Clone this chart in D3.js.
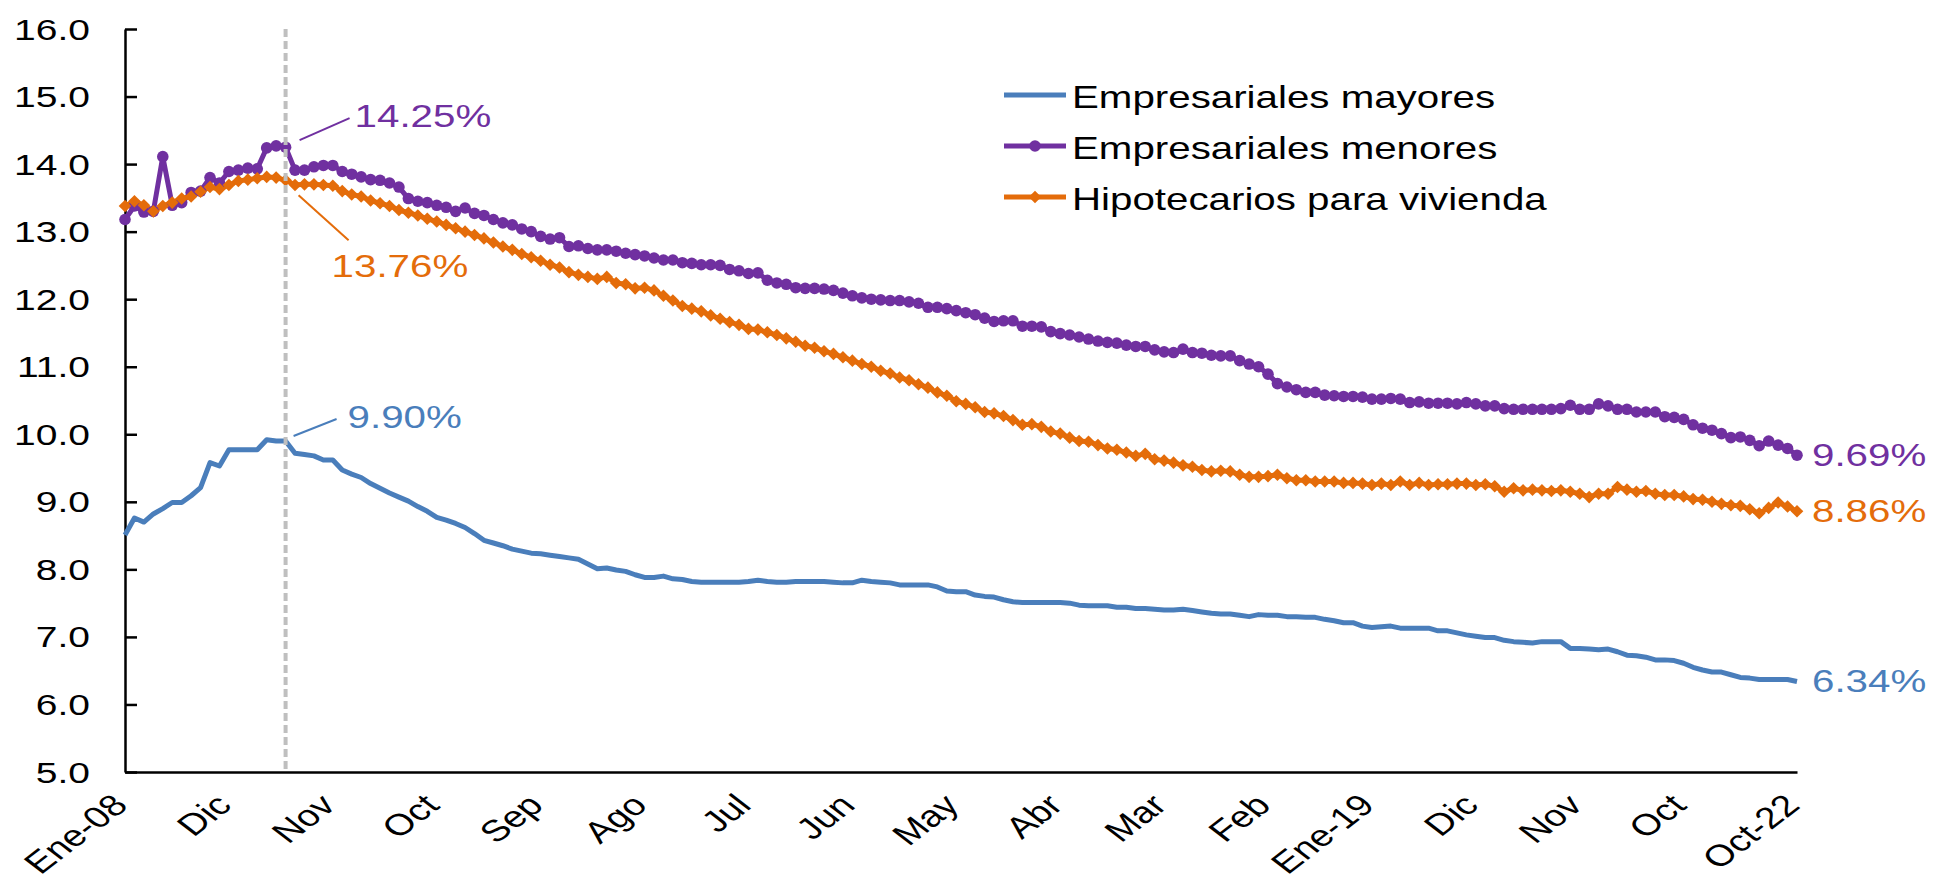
<!DOCTYPE html>
<html lang="es">
<head>
<meta charset="utf-8">
<title>Tasas de interés</title>
<script src="https://d3js.org/d3.v7.min.js"></script>
<style>
html,body {margin:0; padding:0; background:#fff;}
svg {display:block;}
text {font-family:"Liberation Sans", Arial, sans-serif;}
</style>
</head>
<body>
<script>
// monthly, Ene-08 .. Oct-22 (178 points)
var mayores = [
  8.51, 8.76, 8.70, 8.82, 8.90, 8.99, 8.99, 9.09, 9.21, 9.58,
  9.53, 9.77, 9.77, 9.77, 9.77, 9.92, 9.90, 9.90, 9.72, 9.70,
  9.68, 9.62, 9.62, 9.47, 9.41, 9.36, 9.27, 9.20, 9.13, 9.07,
  9.01, 8.93, 8.86, 8.77, 8.73, 8.68, 8.62, 8.53, 8.43, 8.39,
  8.35, 8.30, 8.27, 8.24, 8.23, 8.21, 8.19, 8.17, 8.15, 8.08,
  8.01, 8.02, 7.99, 7.97, 7.92, 7.88, 7.88, 7.90, 7.86, 7.85,
  7.82, 7.81, 7.81, 7.81, 7.81, 7.81, 7.82, 7.84, 7.82, 7.81,
  7.81, 7.82, 7.82, 7.82, 7.82, 7.81, 7.80, 7.80, 7.84, 7.82,
  7.81, 7.80, 7.77, 7.77, 7.77, 7.77, 7.74, 7.68, 7.67, 7.67,
  7.62, 7.60, 7.59, 7.55, 7.52, 7.51, 7.51, 7.51, 7.51, 7.51,
  7.50, 7.47, 7.46, 7.46, 7.46, 7.44, 7.44, 7.42, 7.42, 7.41,
  7.40, 7.40, 7.41, 7.39, 7.37, 7.35, 7.34, 7.34, 7.32, 7.30,
  7.33, 7.32, 7.32, 7.30, 7.30, 7.29, 7.29, 7.26, 7.24, 7.21,
  7.21, 7.16, 7.14, 7.15, 7.16, 7.13, 7.13, 7.13, 7.13, 7.09,
  7.09, 7.06, 7.03, 7.01, 6.99, 6.99, 6.95, 6.93, 6.92, 6.91,
  6.93, 6.93, 6.93, 6.83, 6.83, 6.82, 6.81, 6.82, 6.78, 6.73,
  6.72, 6.70, 6.66, 6.66, 6.65, 6.61, 6.55, 6.51, 6.48, 6.48,
  6.44, 6.40, 6.39, 6.37, 6.37, 6.37, 6.37, 6.34
]
var menores = [
  13.18, 13.38, 13.29, 13.30, 14.11, 13.39, 13.43, 13.58, 13.60, 13.80,
  13.72, 13.89, 13.91, 13.94, 13.93, 14.24, 14.27, 14.25, 13.91, 13.91,
  13.96, 13.98, 13.98, 13.89, 13.85, 13.81, 13.77, 13.76, 13.72, 13.66,
  13.49, 13.45, 13.43, 13.39, 13.36, 13.30, 13.35, 13.27, 13.24, 13.18,
  13.13, 13.10, 13.04, 13.00, 12.93, 12.89, 12.91, 12.78, 12.79, 12.75,
  12.73, 12.73, 12.71, 12.68, 12.66, 12.64, 12.61, 12.58, 12.58, 12.54,
  12.53, 12.51, 12.51, 12.50, 12.44, 12.42, 12.38, 12.39, 12.28, 12.24,
  12.22, 12.17, 12.16, 12.16, 12.15, 12.13, 12.09, 12.05, 12.02, 12.00,
  11.99, 11.98, 11.98, 11.96, 11.94, 11.88, 11.88, 11.86, 11.83, 11.80,
  11.77, 11.72, 11.67, 11.68, 11.68, 11.60, 11.60, 11.59, 11.52, 11.49,
  11.47, 11.44, 11.41, 11.38, 11.36, 11.35, 11.32, 11.30, 11.30, 11.25,
  11.22, 11.21, 11.26, 11.21, 11.20, 11.17, 11.16, 11.16, 11.09, 11.04,
  11.00, 10.89, 10.75, 10.70, 10.66, 10.62, 10.62, 10.58, 10.57, 10.56,
  10.56, 10.55, 10.52, 10.52, 10.53, 10.52, 10.47, 10.48, 10.46, 10.46,
  10.46, 10.45, 10.47, 10.45, 10.42, 10.42, 10.38, 10.37, 10.37, 10.37,
  10.37, 10.37, 10.38, 10.43, 10.37, 10.37, 10.45, 10.42, 10.37, 10.37,
  10.33, 10.33, 10.33, 10.26, 10.25, 10.22, 10.14, 10.09, 10.06, 10.01,
  9.95, 9.96, 9.91, 9.83, 9.90, 9.84, 9.79, 9.69
]
var hipotecarios = [
  13.38, 13.45, 13.39, 13.30, 13.38, 13.43, 13.49, 13.52, 13.59, 13.66,
  13.63, 13.69, 13.75, 13.77, 13.79, 13.81, 13.80, 13.76, 13.69, 13.70,
  13.70, 13.69, 13.68, 13.60, 13.55, 13.52, 13.46, 13.42, 13.38, 13.32,
  13.28, 13.24, 13.19, 13.15, 13.10, 13.05, 13.00, 12.95, 12.90, 12.84,
  12.78, 12.73, 12.67, 12.62, 12.57, 12.51, 12.47, 12.40, 12.36, 12.33,
  12.30, 12.33, 12.24, 12.22, 12.16, 12.17, 12.13, 12.05, 11.98, 11.90,
  11.86, 11.82, 11.76, 11.71, 11.66, 11.62, 11.56, 11.55, 11.51, 11.47,
  11.42, 11.37, 11.31, 11.28, 11.23, 11.19, 11.14, 11.09, 11.04, 11.00,
  10.94, 10.90, 10.84, 10.80, 10.74, 10.69, 10.62, 10.57, 10.49, 10.45,
  10.40, 10.33, 10.31, 10.27, 10.21, 10.14, 10.15, 10.11, 10.04, 10.01,
  9.95, 9.90, 9.89, 9.84, 9.79, 9.77, 9.73, 9.68, 9.71, 9.63,
  9.61, 9.58, 9.54, 9.52, 9.47, 9.45, 9.46, 9.45, 9.40, 9.37,
  9.37, 9.38, 9.40, 9.35, 9.32, 9.32, 9.30, 9.30, 9.30, 9.28,
  9.28, 9.27, 9.25, 9.27, 9.25, 9.30, 9.25, 9.28, 9.25, 9.26,
  9.26, 9.27, 9.27, 9.25, 9.26, 9.23, 9.15, 9.20, 9.17, 9.18,
  9.17, 9.16, 9.17, 9.15, 9.12, 9.07, 9.12, 9.12, 9.22, 9.18,
  9.15, 9.16, 9.12, 9.10, 9.10, 9.08, 9.04, 9.03, 9.00, 8.97,
  8.95, 8.94, 8.89, 8.83, 8.91, 8.99, 8.93, 8.86
]
var seriesNames = ['Empresariales mayores', 'Empresariales menores', 'Hipotecarios para vivienda']
var tickIdx = [0, 11, 22, 33, 44, 55, 66, 77, 88, 99, 110, 121, 132, 143, 154, 165, 177]
var tickLabels = ['Ene-08', 'Dic', 'Nov', 'Oct', 'Sep', 'Ago', 'Jul', 'Jun', 'May', 'Abr', 'Mar', 'Feb', 'Ene-19', 'Dic', 'Nov', 'Oct', 'Oct-22']
var yTicks = [5, 6, 7, 8, 9, 10, 11, 12, 13, 14, 15, 16]
var peakIdx = 17

var W = 1936, H = 883
var SX = 1.3   // the original picture is stretched sideways
var colors = ['#4a7ebb', '#7030a0', '#e46c0a']
var FONT = 31

var svg = d3.select('body').append('svg').attr('width', W).attr('height', H)

var x = d3.scaleLinear().domain([0, mayores.length - 1]).range([125, 1797])
var y = d3.scaleLinear().domain([5, 16]).range([772, 29])

function stext(g, px, py, str, opts) {
  opts = opts || {}
  return g.append('text')
    .attr('transform', `translate(${px},${py}) scale(${SX},1)` + (opts.rot ? ` rotate(${opts.rot})` : ''))
    .attr('text-anchor', opts.anchor || 'start')
    .attr('font-size', opts.size || FONT)
    .attr('fill', opts.fill || '#000')
    .text(str)
}

// y axis, ticks pointing inward
var yAxis = svg.append('g').attr('transform', `translate(${x(0)},0)`)
  .call(d3.axisLeft(y).tickValues(yTicks).tickSizeInner(-12).tickSizeOuter(0).tickFormat(d3.format('.1f')))
yAxis.select('.domain').attr('stroke', '#000').attr('stroke-width', 2.5)
yAxis.selectAll('.tick line').attr('stroke', '#000').attr('stroke-width', 2.5)
yAxis.selectAll('.tick text').remove()
yAxis.attr('font-size', null).attr('font-family', null)
yAxis.selectAll('.tick').each(function(d) {
  stext(d3.select(this), -35, 10, d3.format('.1f')(d), {anchor: 'end', size: 30})
})

// x axis, no tick marks
var xAxis = svg.append('g').attr('transform', `translate(0,${y(5)})`)
  .call(d3.axisBottom(x).tickValues(tickIdx).tickSize(0).tickFormat(function(d, i) { return tickLabels[i] }))
xAxis.select('.domain').attr('stroke', '#000').attr('stroke-width', 2.5)
xAxis.attr('font-size', null).attr('font-family', null)
xAxis.selectAll('.tick text').remove()
xAxis.selectAll('.tick').each(function(d, i) {
  stext(d3.select(this), 4, 35, tickLabels[i], {anchor: 'end', size: 30, rot: -45})
})

// series
var allSeries = [mayores, menores, hipotecarios]
var line = d3.line().x(function(d, i) { return x(i) }).y(function(d) { return y(d) })

allSeries.forEach(function(s, k) {
  svg.append('path').datum(s)
    .attr('d', line)
    .attr('fill', 'none')
    .attr('stroke', colors[k])
    .attr('stroke-width', 5)
    .attr('stroke-linejoin', 'round')
})

// markers
svg.append('g').selectAll('circle').data(menores).join('circle')
  .attr('cx', function(d, i) { return x(i) })
  .attr('cy', function(d) { return y(d) })
  .attr('r', 5.8)
  .attr('fill', colors[1])

function diamond(cx, cy) {
  return `M${cx},${cy - 6.3}L${cx + 6.3},${cy}L${cx},${cy + 6.3}L${cx - 6.3},${cy}Z`
}
svg.append('g').selectAll('path').data(hipotecarios).join('path')
  .attr('d', function(d, i) { return diamond(x(i), y(d)) })
  .attr('fill', colors[2])

// vertical dashed line at peak
svg.append('line')
  .attr('x1', x(peakIdx)).attr('x2', x(peakIdx))
  .attr('y1', y(16)).attr('y2', y(5))
  .attr('stroke', '#bfbfbf').attr('stroke-width', 4)
  .attr('stroke-dasharray', '8,4')

var pct = function(v) { return d3.format('.2f')(v) + '%' }

// peak annotations: [series, leader start dx,dy, leader end dx,dy, text dx,dy]
var notes = [
  [menores, 14, -7, 64, -29, 69, -20],
  [hipotecarios, 13, 15, 63, 60, 46, 97],
  [mayores, 8, -5, 51, -22, 62, -13]
]
var ann = svg.append('g')
notes.forEach(function(n) {
  var k = allSeries.indexOf(n[0])
  var px = x(peakIdx), py = y(n[0][peakIdx])
  ann.append('line')
    .attr('x1', px + n[1]).attr('y1', py + n[2])
    .attr('x2', px + n[3]).attr('y2', py + n[4])
    .attr('stroke', colors[k]).attr('stroke-width', 2)
  stext(ann, px + n[5], py + n[6], pct(n[0][peakIdx]), {fill: colors[k]})
})

// end labels
allSeries.forEach(function(s, k) {
  var last = s.length - 1
  stext(ann, x(last) + 15, y(s[last]) + 11, pct(s[last]), {fill: colors[k]})
})

// legend
var leg = svg.append('g').attr('transform', 'translate(1004,95)')
seriesNames.forEach(function(name, k) {
  var g = leg.append('g').attr('transform', `translate(0,${k * 51})`)
  g.append('line').attr('x1', 0).attr('x2', 62).attr('y1', 0).attr('y2', 0)
    .attr('stroke', colors[k]).attr('stroke-width', 5)
  if (k == 1) g.append('circle').attr('cx', 31).attr('cy', 0).attr('r', 5.8).attr('fill', colors[k])
  if (k == 2) g.append('path').attr('d', diamond(31, 0)).attr('fill', colors[k])
  stext(g, 68, 13, name, {size: 31})
})
</script>
</body>
</html>
